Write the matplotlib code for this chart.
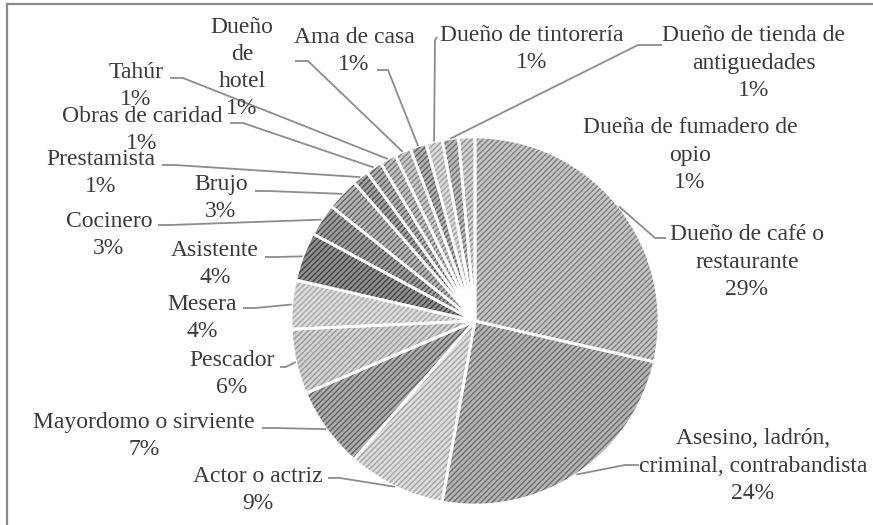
import matplotlib
matplotlib.use("Agg")
import matplotlib.pyplot as plt
import numpy as np

# ---------------- data ----------------
labels = [
    "Dueño de café o\nrestaurante",
    "Asesino, ladrón,\ncriminal, contrabandista",
    "Actor o actriz",
    "Mayordomo o sirviente",
    "Pescador",
    "Mesera",
    "Asistente",
    "Cocinero",
    "Brujo",
    "Prestamista",
    "Obras de caridad",
    "Tahúr",
    "Dueño\nde\nhotel",
    "Ama de casa",
    "Dueño de tintorería",
    "Dueño de tienda de\nantiguedades",
    "Dueña de fumadero de\nopio",
]
counts = [20, 17, 6, 5, 4, 3, 3, 2, 2, 1, 1, 1, 1, 1, 1, 1, 1]

# ---------------- styles ----------------
face_colors = ["#c8c8c8", "#b8b8b8", "#dedede", "#b0b0b0", "#d4d4d4", "#dcdcdc",
               "#929292", "#a0a0a0", "#b8b8b8", "#a4a4a4", "#b4b4b4", "#c4c4c4",
               "#cacaca", "#b4b4b4", "#dadada", "#bcbcbc", "#d2d2d2"]
hatch_colors = ["#808080", "#707070", "#a8a8a8", "#646464", "#9c9c9c", "#acacac",
                "#444444", "#545454", "#686868", "#545454", "#646464", "#767676",
                "#868686", "#646464", "#a4a4a4", "#747474", "#949494"]

W, H = 873, 525
plt.rcParams['font.family'] = ['Liberation Serif', 'DejaVu Serif']
plt.rcParams['hatch.linewidth'] = 1.1

fig = plt.figure(figsize=(W / 100, H / 100), dpi=100)
ax = fig.add_axes([0, 0, 1, 1])

center = (475, H - 321)
R = 184

# base fill
wedges, _ = ax.pie(counts, colors=face_colors, startangle=90, counterclock=False,
                   radius=R, center=center, frame=True,
                   wedgeprops=dict(linewidth=0, edgecolor='none'))
# hatch layer
hw, _ = ax.pie(counts, colors=['none'] * len(counts), startangle=90, counterclock=False,
               radius=R, center=center, frame=True,
               wedgeprops=dict(linewidth=0))
for w, hc in zip(hw, hatch_colors):
    w.set_fill(False)
    w.set_edgecolor(hc)
    w.set_linewidth(0)
    w.set_hatch('//////')
# white separators
sw, _ = ax.pie(counts, colors=['none'] * len(counts), startangle=90, counterclock=False,
               radius=R, center=center, frame=True,
               wedgeprops=dict(linewidth=2.0, edgecolor='white', fill=False))

ax.set_xlim(0, W)
ax.set_ylim(0, H)
ax.set_aspect('auto')
ax.axis('off')

total = sum(counts)
# label block centre (px from top-left), leader anchor, elbow
label_pos = [
    (747, 262), (753, 466), (258, 490), (144, 436), (232, 374), (202, 318),
    (215, 264), (109, 235), (221, 198), (101, 173), (142, 130), (136, 86),
    (242, 68), (354, 51), (532, 49), (754, 63), (690, 155),
]
leaders = [
    ((666, 238), (655, 238)),
    ((639, 465), (625, 465)),
    ((328, 478), (340, 478)),
    ((262, 428), (275, 428)),
    ((280, 367), (286, 367)),
    ((243, 308), (255, 308)),
    ((265, 257), (278, 257)),
    ((158, 225), (170, 225)),
    ((255, 191), (268, 191)),
    ((162, 165), (175, 165)),
    ((230, 123), (243, 123)),
    ((170, 78), (183, 78)),
    ((295, 61), (308, 61)),
    ((377, 70), (388, 70)),
    ((437, 37), (435, 40)),
    ((662, 45), (638, 45)),
    None,
]

txt_color = "#3a3a3a"
line_color = "#8c8c8c"
for i, (lab, c) in enumerate(zip(labels, counts)):
    pct = int(round(c / total * 100))
    x, y = label_pos[i]
    ax.text(x, H - y, f"{lab}\n{pct}%", ha='center', va='center', fontsize=17,
            color=txt_color, linespacing=1.38)
    if leaders[i] is not None:
        w = wedges[i]
        th = np.deg2rad((w.theta1 + w.theta2) / 2)
        px = w.center[0] + w.r * np.cos(th)
        py = w.center[1] + w.r * np.sin(th)
        (ax0, ay0), (ex, ey) = leaders[i]
        ax.plot([ax0, ex, px], [H - ay0, H - ey, py], color=line_color, lw=1.3,
                solid_capstyle='butt')

# frame border (top and left)
ax.plot([7, 7], [0, H - 4], color="#8a8a8a", lw=1.6, clip_on=False)
ax.plot([7, W], [H - 4, H - 4], color="#8a8a8a", lw=1.6, clip_on=False)

fig.savefig("out.png", dpi=100)
